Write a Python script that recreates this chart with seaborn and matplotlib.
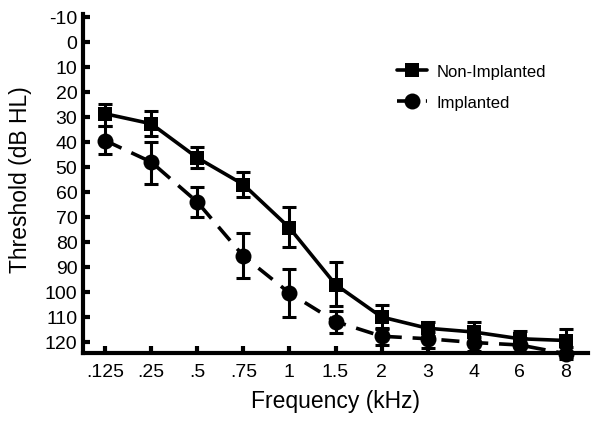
import numpy as np
import pandas as pd
import matplotlib
matplotlib.use("Agg")
import matplotlib.pyplot as plt
import seaborn as sns

freq_labels = [".125", ".25", ".5", ".75", "1", "1.5", "2", "3", "4", "6", "8"]

non_mean = [28.8, 32.8, 46.4, 57.1, 74.4, 97.1, 110.1, 114.6, 116.1, 118.8, 119.5]
non_top = [24.8, 27.7, 42.1, 51.9, 66.1, 88.1, 105.1, 111.9, 111.9, 115.5, 114.8]
non_bot = [33.5, 37.5, 50.5, 62.1, 82.1, 105.5, 114.8, 117.5, 120.3, 122.0, 124.0]

imp_mean = [39.5, 48.1, 64.1, 85.7, 100.5, 111.9, 117.8, 118.8, 120.3, 121.3, 124.8]
imp_top = [33.5, 40.1, 58.1, 76.4, 90.8, 107.5, 114.6, 116.0, 118.0, 118.5, 122.0]
imp_bot = [44.8, 56.8, 70.1, 94.5, 110.1, 116.4, 121.3, 122.3, 123.5, 124.0, 127.0]

groups = ["Non-Implanted", "Implanted"]
y_ticks = list(range(-10, 121, 10))

pos = np.arange(len(freq_labels))
df = pd.DataFrame({
    "pos": np.concatenate([pos, pos]),
    "thr": non_mean + imp_mean,
    "group": [groups[0]] * len(pos) + [groups[1]] * len(pos),
})

sns.set_style("ticks")
plt.rcParams["font.family"] = ["Liberation Sans", "DejaVu Sans"]
plt.rcParams["text.color"] = "black"
plt.rcParams["axes.labelcolor"] = "black"

fig = plt.figure(figsize=(6.0, 4.27), dpi=100)
ax = fig.add_axes([83 / 600, 73 / 427, 505 / 600, 338.75 / 427])

# error bars
for mean, top, bot in [(non_mean, non_top, non_bot), (imp_mean, imp_top, imp_bot)]:
    m = np.array(mean); t = np.array(top); b = np.array(bot)
    ax.errorbar(pos, m, yerr=[m - t, b - m], fmt="none", ecolor="black",
                elinewidth=2.2, capsize=5, capthick=2.2, zorder=3, clip_on=False)

sns.lineplot(data=df, x="pos", y="thr", hue="group", style="group",
             hue_order=groups, style_order=groups,
             palette={groups[0]: "black", groups[1]: "black"},
             markers={groups[0]: "s", groups[1]: "o"},
             dashes={groups[0]: "", groups[1]: (5, 3)},
             linewidth=2.6, markersize=10, markeredgewidth=0,
             ax=ax, zorder=4, errorbar=None, legend=True)

for ln in ax.lines:
    ln.set_clip_on(False)
    if ln.get_marker() == "o":
        ln.set_markersize(11.5)

ax.set_xlim(-0.48, 10.48)
ax.set_ylim(124.5, -11)
ax.set_xticks(pos)
ax.set_xticklabels(freq_labels)
ax.set_yticks(y_ticks)
ax.set_yticklabels([str(v) for v in y_ticks])

for s in ["top", "right"]:
    ax.spines[s].set_visible(False)
for s in ["left", "bottom"]:
    ax.spines[s].set_linewidth(3)
    ax.spines[s].set_color("black")

ax.tick_params(axis="both", direction="in", length=5, width=3, color="black",
               labelsize=14, labelcolor="black")
ax.tick_params(axis="y", pad=4)
ax.tick_params(axis="x", pad=7)

ax.set_xlabel("Frequency (kHz)", fontsize=16.5, labelpad=7, color="black")
ax.set_ylabel("Threshold (dB HL)", fontsize=16.5, color="black")
ax.yaxis.set_label_coords(-0.1, 0.514)

handles, labels = ax.get_legend_handles_labels()
leg = ax.legend(handles, labels, loc="upper left",
                bbox_to_anchor=(397 / 600, 1 - 65 / 427),
                bbox_transform=fig.transFigure, frameon=False,
                fontsize=12, handlelength=1.8, handletextpad=0.55,
                labelspacing=0.95, borderpad=0, borderaxespad=0)
for t in leg.get_texts():
    t.set_color("black")

fig.savefig("out.png", dpi=100)
